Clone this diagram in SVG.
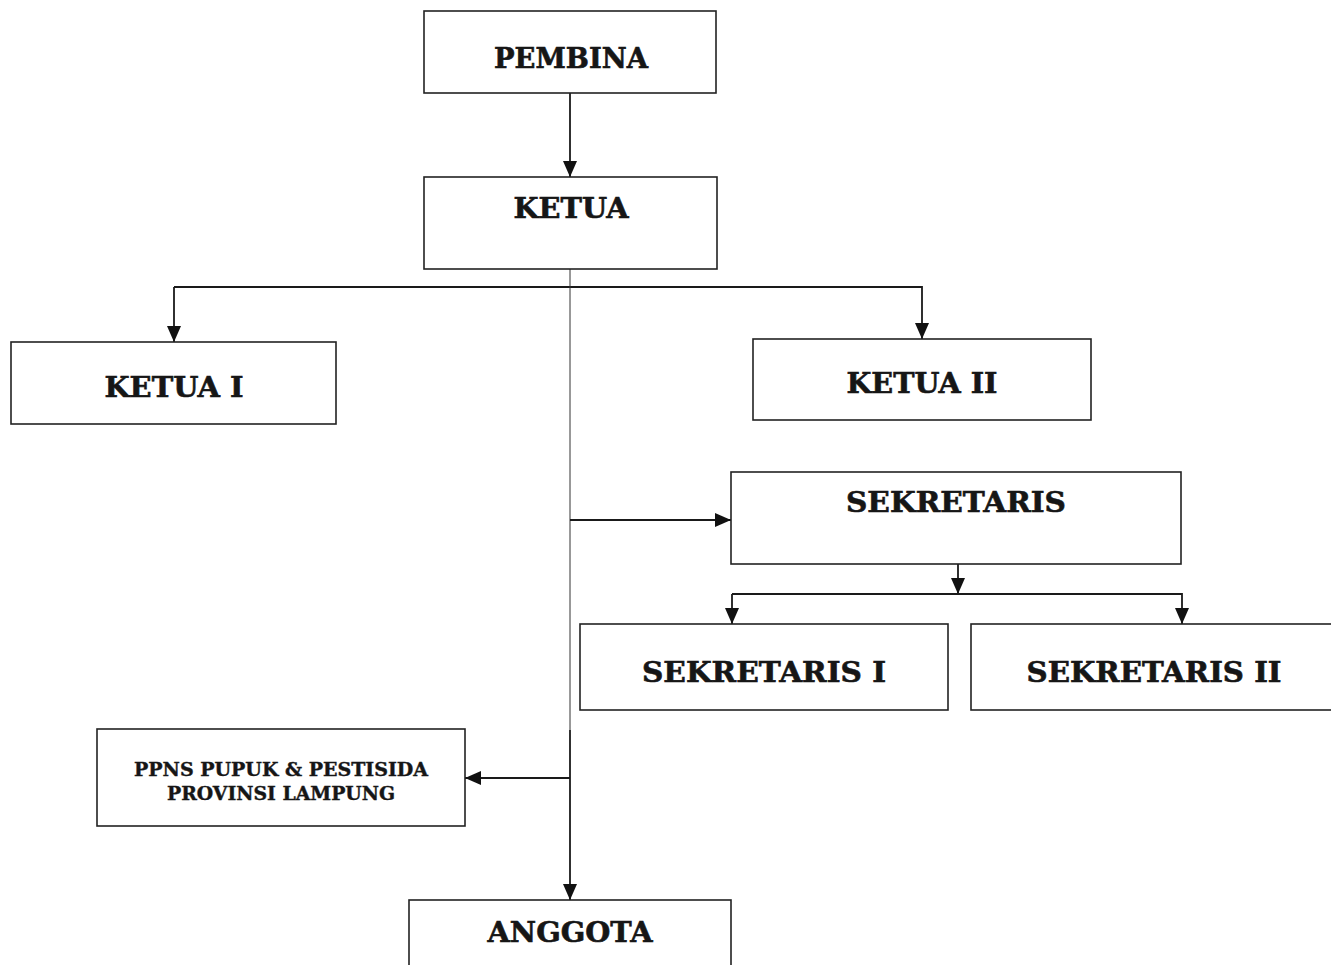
<svg xmlns="http://www.w3.org/2000/svg" width="1331" height="965" viewBox="0 0 1331 965">
<defs>
<marker id="ah" markerWidth="16" markerHeight="14" refX="16" refY="7" orient="auto" markerUnits="userSpaceOnUse">
<path d="M0,0 L16,7 L0,14 Z" fill="#111"/>
</marker>
<style>
.box{fill:#fff;stroke:#222;stroke-width:1.6}
.lbl{font-family:"DejaVu Serif","Liberation Serif",serif;font-weight:bold;font-size:27px;fill:#161616;stroke:#161616;stroke-width:0.6;text-anchor:middle}
.sm{font-size:18px;stroke-width:0.4}
.c{fill:none;stroke:#1a1a1a;stroke-width:1.8}
.thin{fill:none;stroke:#333;stroke-width:1}
</style>
</defs>
<rect width="1331" height="965" fill="#fff"/>
<g id="connectors">
<line class="c" x1="570" y1="93" x2="570" y2="177" marker-end="url(#ah)"/>
<polyline class="c" points="174,287 922,287 922,339" marker-end="url(#ah)"/>
<line class="c" x1="174" y1="287" x2="174" y2="342" marker-end="url(#ah)"/>
<line class="thin" x1="570" y1="269" x2="570" y2="730"/>
<line class="c" x1="570" y1="730" x2="570" y2="900" marker-end="url(#ah)"/>
<line class="c" x1="570" y1="520" x2="731" y2="520" marker-end="url(#ah)"/>
<line class="c" x1="958" y1="564" x2="958" y2="594" marker-end="url(#ah)"/>
<polyline class="c" points="732,594 1182,594 1182,624" marker-end="url(#ah)"/>
<line class="c" x1="732" y1="594" x2="732" y2="624" marker-end="url(#ah)"/>
<line class="c" x1="570" y1="778" x2="465" y2="778" marker-end="url(#ah)"/>
</g>
<g id="pembina"><rect class="box" x="424" y="11" width="292" height="82"/><text class="lbl" x="571" y="68" textLength="154" lengthAdjust="spacingAndGlyphs">PEMBINA</text></g>
<g id="ketua"><rect class="box" x="424" y="177" width="293" height="92"/><text class="lbl" x="571" y="218" textLength="115" lengthAdjust="spacingAndGlyphs">KETUA</text></g>
<g id="ketua1"><rect class="box" x="11" y="342" width="325" height="82"/><text class="lbl" x="174" y="397" textLength="139" lengthAdjust="spacingAndGlyphs">KETUA I</text></g>
<g id="ketua2"><rect class="box" x="753" y="339" width="338" height="81"/><text class="lbl" x="922" y="393" textLength="151" lengthAdjust="spacingAndGlyphs">KETUA II</text></g>
<g id="sekretaris"><rect class="box" x="731" y="472" width="450" height="92"/><text class="lbl" x="956" y="512" textLength="220" lengthAdjust="spacingAndGlyphs">SEKRETARIS</text></g>
<g id="sekretaris1"><rect class="box" x="580" y="624" width="368" height="86"/><text class="lbl" x="764" y="682" textLength="244" lengthAdjust="spacingAndGlyphs">SEKRETARIS I</text></g>
<g id="sekretaris2"><rect class="box" x="971" y="624" width="370" height="86"/><text class="lbl" x="1154" y="682" textLength="255" lengthAdjust="spacingAndGlyphs">SEKRETARIS II</text></g>
<g id="ppns"><rect class="box" x="97" y="729" width="368" height="97"/><text class="lbl sm" x="281" y="776" textLength="294" lengthAdjust="spacingAndGlyphs">PPNS PUPUK &amp; PESTISIDA</text><text class="lbl sm" x="281" y="800" textLength="228" lengthAdjust="spacingAndGlyphs">PROVINSI LAMPUNG</text></g>
<g id="anggota"><rect class="box" x="409" y="900" width="322" height="80"/><text class="lbl" x="570" y="942" textLength="165" lengthAdjust="spacingAndGlyphs">ANGGOTA</text></g>
</svg>
